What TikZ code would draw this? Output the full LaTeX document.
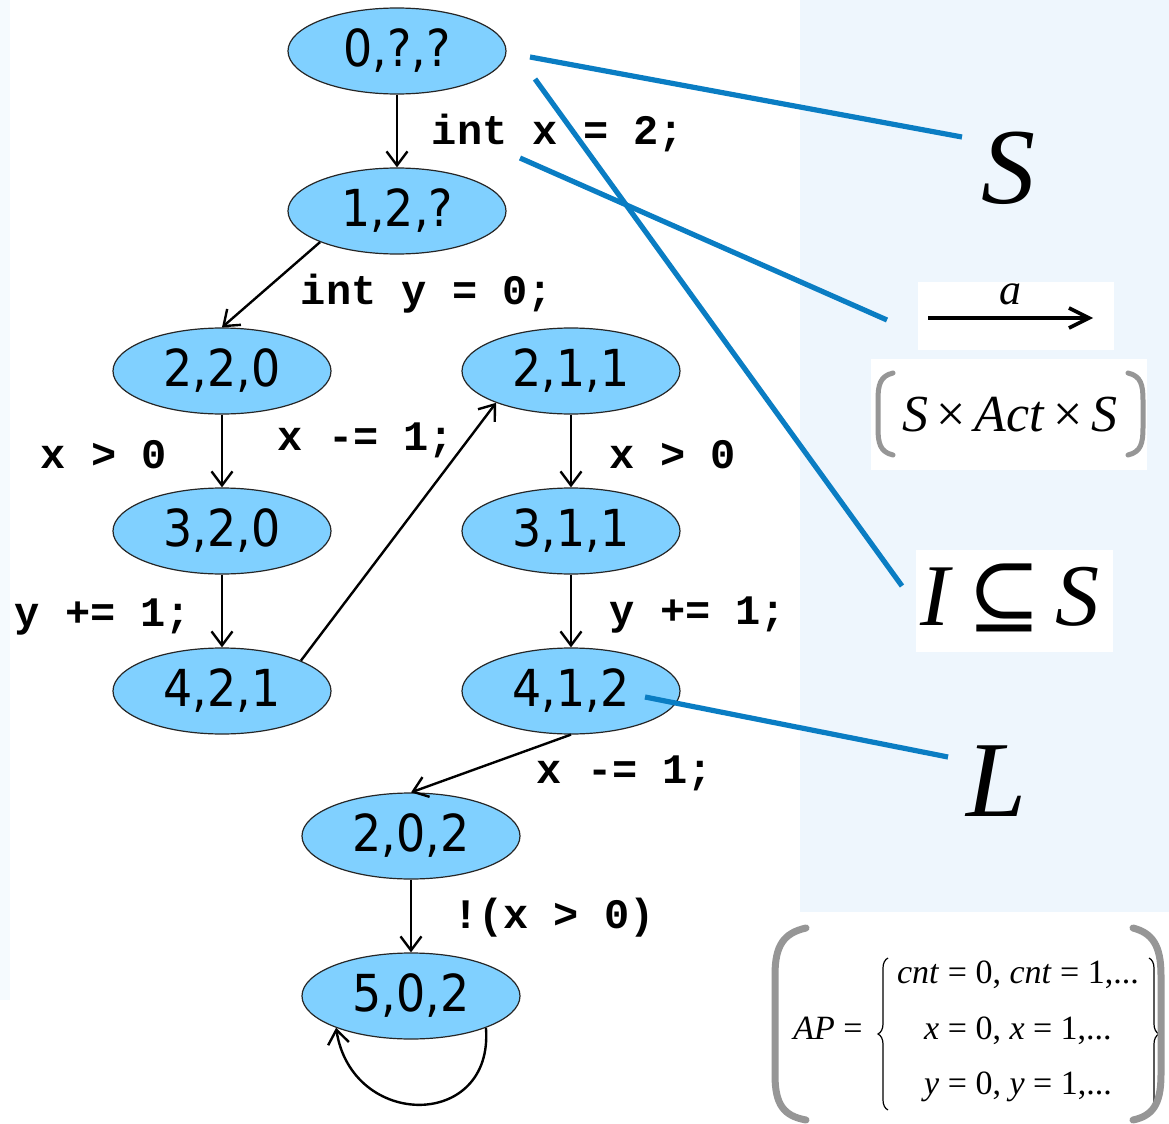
\documentclass[tikz,border=0pt]{standalone}
\usepackage{fontspec}
\usetikzlibrary{shapes.geometric,arrows.meta,decorations.pathreplacing}
\newfontfamily\nodefont[FakeStretch=0.9]{DejaVu Sans}
\newfontfamily\codefont{Liberation Mono}
\newfontfamily\tnr{Liberation Serif}
\newfontfamily\dvs{DejaVu Serif}
\definecolor{stblue}{RGB}{128,208,255}
\definecolor{lineblue}{RGB}{10,125,195}
\definecolor{paleblue}{RGB}{238,246,253}
\definecolor{brgray}{RGB}{150,150,150}
\tikzset{
  state/.style={ellipse, draw=black!85, line width=0.6pt, fill=stblue,
    minimum width=109pt, minimum height=43pt, inner sep=0pt,
    font=\nodefont\fontsize{25.5}{30}\selectfont},
  code/.style={inner sep=0pt, font=\codefont\bfseries\fontsize{21}{24}\selectfont},
  trans/.style={line width=1.2pt, -{Straight Barb[length=7pt,width=10.5pt,line width=1.2pt]}},
  conn/.style={draw=lineblue, line width=2.6pt},
  brk/.style={draw=brgray, line width=2.5pt, line cap=round},
  bigbrk/.style={draw=brgray, line width=3.5pt, line cap=round},
  mathtxt/.style={inner sep=0pt},
  thinbrace/.style={draw=black, line width=0.6pt, decorate,
    decoration={brace, amplitude=5pt, aspect=0.5}}
}
\begin{document}
\begin{tikzpicture}[x=0.5pt,y=-0.5pt]
\useasboundingbox (0,0) rectangle (1169,1124);
% background
\fill[white] (0,0) rectangle (1169,1124);
\fill[paleblue] (800,0) rectangle (1169,912);
\fill[paleblue!60] (0,0) rectangle (10,1000);
\fill[white] (918,282) rectangle (1114,350);
\fill[white] (871,359) rectangle (1147,470);
\fill[white] (916,550) rectangle (1113,652);

% states
\node[state] (n0)   at (397,51)  {0,?,?};
\node[state] (n1)   at (397,211) {1,2,?};
\node[state] (n220) at (222,371) {2,2,0};
\node[state] (n320) at (222,531) {3,2,0};
\node[state] (n421) at (222,691) {4,2,1};
\node[state] (n211) at (571,371) {2,1,1};
\node[state] (n311) at (571,531) {3,1,1};
\node[state] (n412) at (571,691) {4,1,2};
\node[state] (n202) at (411,836) {2,0,2};
\node[state] (n502) at (411,996) {5,0,2};

% transitions
\draw[trans] (n0) -- (n1);
\draw[trans] (n1.202) -- (n220.north);
\draw[trans] (n220) -- (n320);
\draw[trans] (n320) -- (n421);
\draw[trans] (n421.21) -- (n211.203);
\draw[trans] (n211) -- (n311);
\draw[trans] (n311) -- (n412);
\draw[trans] (n412.south) -- (n202.north);
\draw[trans] (n202) -- (n502);
\draw[trans] (n502.-23) .. controls (494,1130) and (352,1130) .. (n502.203);

% code labels
\node[code] (c1) at (558,133) {int x = 2;};
\node[code] (c2) at (427,294) {int y = 0;};
\node[code] (c3) at (104,455) {x > 0};
\node[code] (c4) at (366,440) {x -= 1;};
\node[code] (c5) at (673,455) {x > 0};
\node[code] (c6) at (103,617) {y += 1;};
\node[code] (c7) at (698,615) {y += 1;};
\node[code] (c8) at (625,773) {x -= 1;};
\node[code] (c9) at (554,918) {!(x > 0)};

% math labels
\node[mathtxt] (mS) at (1008,168) {\tnr\itshape\fontsize{54}{60}\selectfont S};
\node[mathtxt] (ma) at (1010,294) {\tnr\itshape\fontsize{22}{24}\selectfont a};
\coordinate (aa) at (928,318);
\coordinate (ab) at (1093,318);
\draw[line width=1.8pt, -{Straight Barb[length=10pt,width=10pt]}] (aa) -- (ab);
\node[mathtxt] (msas) at (1010,415) {\tnr\fontsize{26}{30}\selectfont\textit{S}\,×\,\textit{Act}\,×\,\textit{S}};
\draw[brk] (893,373) .. controls (880,376) and (878,385) .. (878,400) -- (878,428) .. controls (878,443) and (880,452) .. (893,455);
\draw[brk] (1128,373) .. controls (1141,376) and (1143,385) .. (1143,400) -- (1143,428) .. controls (1143,443) and (1141,452) .. (1128,455);
\node[mathtxt] (mI) at (1010,598) {\tnr\fontsize{44}{50}\selectfont\textit{I}\,{\dvs ⊆}\,\textit{S}};
\node[mathtxt] (mL) at (997,781) {\tnr\itshape\fontsize{54}{60}\selectfont L};

% AP block
\node[mathtxt] (apl) at (828,1028) {\tnr\fontsize{17}{20}\selectfont\textit{AP} =};
\node[mathtxt] (apt) at (1018,1028) {\tnr\fontsize{17}{27.8}\selectfont\begin{tabular}{@{}c@{}}\textit{cnt} = 0, \textit{cnt} = 1,...\\ \textit{x} = 0, \textit{x} = 1,...\\ \textit{y} = 0, \textit{y} = 1,...\end{tabular}};
\coordinate (bl1) at (888,1110); \coordinate (bl2) at (888,958);
\coordinate (br1) at (1149,958); \coordinate (br2) at (1149,1110);
\draw[thinbrace] (bl1) -- (bl2);
\draw[thinbrace] (br1) -- (br2);
\draw[bigbrk] (806,928) .. controls (784,933) and (775,945) .. (775,975) -- (775,1075) .. controls (775,1105) and (784,1116) .. (806,1120);
\draw[bigbrk] (1133,928) .. controls (1152,933) and (1161,945) .. (1161,975) -- (1161,1075) .. controls (1161,1105) and (1152,1116) .. (1133,1120);

% blue pointer lines
\coordinate (p1a) at (530,57);  \coordinate (p1b) at (962,137);
\coordinate (p2a) at (535,79);  \coordinate (p2b) at (902,586);
\coordinate (p3a) at (520,158); \coordinate (p3b) at (887,320);
\coordinate (p4a) at (645,697); \coordinate (p4b) at (948,757);
\draw[conn] (p1a) -- (p1b);
\draw[conn] (p2a) -- (p2b);
\draw[conn] (p3a) -- (p3b);
\draw[conn] (p4a) -- (p4b);
\end{tikzpicture}
\end{document}
